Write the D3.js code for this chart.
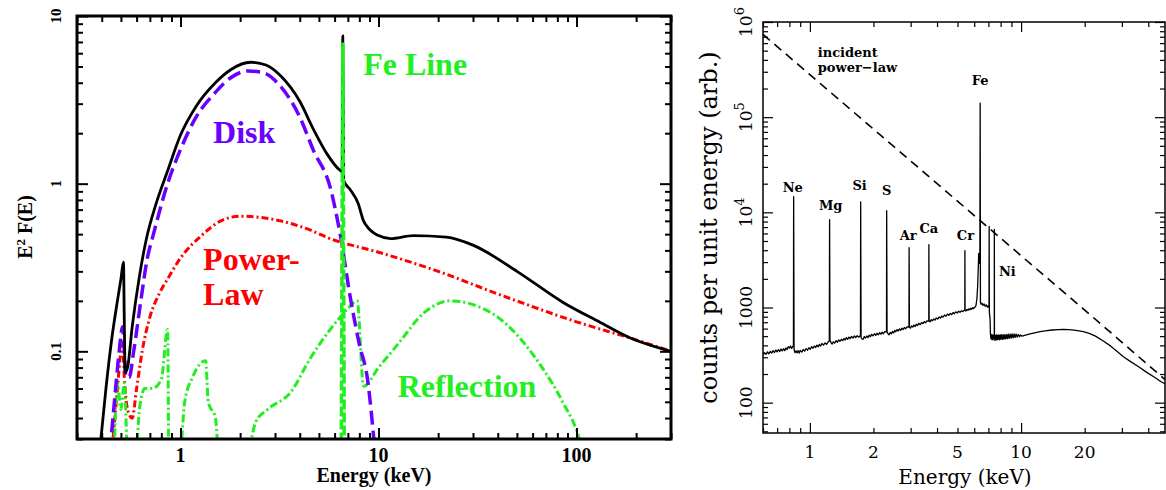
<!DOCTYPE html>
<html><head><meta charset="utf-8">
<script src="https://cdn.jsdelivr.net/npm/d3@7"></script>
<style>body{margin:0;background:#fff}svg{display:block}</style>
</head><body>
<svg id="c" width="1166" height="490"></svg>
<script>
// ================= LEFT PANEL DATA (E in keV, E^2 F(E)) =================
const leftXTickValues = [1, 10, 100];
const leftXTickLabels = ["1", "10", "100"];
const leftYTickValues = [0.1, 1, 10];
const leftYTickLabels = ["0.1", "1", "10"];

const totalCurve = [[0.39,0.025],[0.42,0.06],[0.45,0.12],[0.48,0.2],[0.50,0.27],[0.515,0.34],[0.52,0.15],[0.525,0.075],[0.54,0.08],
  [0.57,0.14],[0.62,0.28],[0.67,0.46],[0.75,0.75],[0.86,1.19],[1.0,1.95],[1.2,2.9],[1.5,4.0],[1.8,4.8],[2.26,5.3],[2.7,5.1],
  [3.2,4.4],[4.0,3.1],[4.7,2.1],[5.5,1.5],[6.4,1.2],[6.55,1.18],[6.6,7.6],[6.66,1.05],[7.2,0.92],[7.9,0.76],[8.4,0.6],[8.8,0.55],
  [10,0.49],[11.5,0.47],[15,0.49],[22,0.48],[30,0.43],[50,0.3],[86,0.195],[130,0.15],[187,0.12],[300,0.1]];
const diskCurve = [[0.44,0.025],[0.47,0.06],[0.49,0.1],[0.51,0.14],[0.52,0.1],[0.53,0.07],[0.55,0.07],[0.58,0.1],[0.63,0.2],
  [0.68,0.36],[0.73,0.5],[0.86,1.0],[1.0,1.6],[1.2,2.5],[1.5,3.5],[1.8,4.3],[2.2,4.7],[2.6,4.6],[3.2,3.8],[4.0,2.5],[4.7,1.57],
  [5.7,0.95],[6.4,0.5],[7.2,0.21],[8.0,0.11],[8.8,0.068],[9.6,0.025]];
const powerLawCurve = [[0.45,0.025],[0.48,0.06],[0.5,0.1],[0.51,0.11],[0.52,0.07],[0.54,0.045],[0.57,0.04],[0.6,0.06],[0.64,0.1],
  [0.7,0.16],[0.78,0.22],[0.86,0.27],[1.0,0.36],[1.3,0.5],[1.6,0.6],[2.0,0.64],[2.5,0.63],[3.2,0.6],[4.5,0.53],[5.7,0.47],
  [10,0.39],[20,0.3],[40,0.22],[100,0.15],[200,0.117],[300,0.1]];
const reflectionCurve = [[0.46,0.02],[0.48,0.065],[0.5,0.045],[0.52,0.065],[0.54,0.025],[0.59,0.02],[0.62,0.045],[0.66,0.06],
  [0.72,0.06],[0.8,0.068],[0.86,0.135],[0.875,0.02],[0.98,0.02],[1.05,0.05],[1.15,0.07],[1.34,0.088],[1.38,0.05],[1.5,0.04],
  [1.58,0.02],[2.08,0.02],[2.4,0.038],[2.75,0.045],[3.6,0.057],[4.5,0.09],[5.7,0.135],[6.4,0.16],[7.0,0.18],[7.8,0.2],[8.4,0.062],
  [10,0.08],[12.5,0.11],[17,0.17],[23,0.2],[30,0.19],[40,0.16],[55,0.11],[68,0.078],[85,0.05],[105,0.028],[112,0.02]];
const feLineCurve = [[6.48,0.02],[6.56,1.2],[6.6,6.8],[6.64,1.2],[6.72,0.02]];

const leftLabels = [
  {text:"Disk", e:1.46, v:1.75, color:"#6a00ff"},
  {text:"Fe Line", e:8.36, v:4.45, color:"#22ee22"},
  {text:"Power-", e:1.30, v:0.306, color:"#ff0000"},
  {text:"Law", e:1.30, v:0.189, color:"#ff0000"},
  {text:"Reflection", e:12.5, v:0.0535, color:"#22ee22"}
];

// ================= RIGHT PANEL DATA (E in keV, counts) =================
const rightXTickValues = [1, 2, 5, 10, 20];
const rightXTickLabels = ["1", "2", "5", "10", "20"];
const rightYTickValues = [100, 1000, 1e4, 1e5, 1e6];
const rightYTickLabels = [["100",""],["1000",""],["10","4"],["10","5"],["10","6"]];

const incidentPowerLaw = [[0.6,7.4e5],[1,2.8e5],[2,7.5e4],[5,1.31e4],[10,3.5e3],[20,9.4e2],[48,1.75e2]];

const reflectedSpectrum = [
  [0.600,318],[0.610,336],[0.620,322],[0.630,342],[0.640,326],[0.650,346],[0.660,333],[0.670,352],[0.680,336],[0.690,358],
  [0.700,342],[0.710,361],[0.720,345],[0.730,366],[0.740,350],[0.750,369],[0.760,352],[0.770,376],[0.780,362],[0.790,388],
  [0.800,374],[0.810,394],[0.820,371],[0.830,390],[0.836,396],[0.838,14600],[0.842,362],[0.850,336],[0.860,350],[0.870,334],
  [0.880,352],[0.890,332],[0.900,354],[0.915,340],[0.930,362],[0.945,348],[0.960,370],[0.975,356],[0.990,378],[1.005,364],
  [1.020,388],[1.035,373],[1.050,394],[1.065,380],[1.080,402],[1.095,386],[1.110,410],[1.125,394],[1.140,418],[1.160,402],
  [1.180,424],[1.200,410],[1.220,434],[1.236,444],[1.240,8400],[1.245,455],[1.260,426],[1.275,414],[1.290,436],[1.310,422],
  [1.330,448],[1.350,432],[1.370,456],[1.390,442],[1.410,464],[1.430,448],[1.450,472],[1.470,456],[1.490,482],[1.510,464],
  [1.530,488],[1.550,470],[1.575,496],[1.600,478],[1.625,502],[1.650,484],[1.675,506],[1.700,488],[1.736,504],[1.740,12900],
  [1.748,484],[1.765,468],[1.785,462],[1.810,494],[1.835,478],[1.860,502],[1.885,484],[1.910,512],[1.935,494],[1.960,522],
  [1.990,504],[2.020,530],[2.050,510],[2.080,536],[2.110,516],[2.140,544],[2.170,524],[2.200,550],[2.230,530],[2.260,556],
  [2.306,556],[2.310,10400],[2.320,556],[2.345,528],[2.370,516],[2.400,546],[2.430,528],[2.460,560],[2.490,540],[2.520,574],
  [2.550,556],[2.585,586],[2.620,566],[2.655,596],[2.690,576],[2.725,606],[2.760,586],[2.800,616],[2.840,596],[2.880,626],
  [2.946,624],[2.950,4250],[2.960,628],[2.990,606],[3.030,640],[3.070,622],[3.110,652],[3.150,632],[3.190,666],[3.230,646],
  [3.280,682],[3.330,660],[3.380,696],[3.430,676],[3.480,710],[3.530,690],[3.580,722],[3.656,718],[3.660,4570],[3.670,724],
  [3.710,706],[3.760,746],[3.810,726],[3.860,758],[3.910,738],[3.970,776],[4.030,756],[4.090,796],[4.150,774],[4.210,814],
  [4.270,792],[4.340,834],[4.410,810],[4.480,852],[4.550,828],[4.620,866],[4.690,842],[4.760,884],[4.830,860],[4.900,900],
  [4.980,876],[5.060,914],[5.140,890],[5.220,926],[5.300,904],[5.380,940],[5.416,934],[5.420,3960],[5.430,938],[5.480,918],
  [5.540,956],[5.600,934],[5.660,968],[5.720,948],[5.780,982],[5.840,960],[5.900,994],[5.960,976],[6.020,1006],[6.080,1020],
  [6.120,1060],[6.180,1250],[6.230,1700],[6.270,2600],[6.300,3700],[6.340,2900],[6.380,3000],[6.400,140000],[6.420,1120],
  [6.470,1080],[6.530,1110],[6.600,1050],[6.680,1090],[6.760,1030],[6.840,1065],[6.920,1010],[7.000,1040],[7.050,1000],
  [7.060,7100],[7.075,900],[7.100,820],[7.130,760],[7.160,520],[7.200,470],[7.240,520],[7.280,460],[7.320,515],[7.360,458],
  [7.400,512],[7.440,470],[7.466,498],[7.470,6600],[7.480,482],[7.520,452],[7.560,508],[7.600,460],[7.650,514],[7.700,456],
  [7.750,512],[7.800,462],[7.860,516],[7.920,458],[7.980,514],[8.040,464],[8.100,518],[8.170,462],[8.240,516],[8.310,466],
  [8.380,520],[8.460,468],[8.540,520],[8.620,470],[8.700,524],[8.790,474],[8.880,526],[8.970,478],[9.060,528],[9.160,480],
  [9.260,528],[9.360,484],[9.470,526],[9.580,488],[9.700,520],[9.830,494],[9.960,514],[10.1,500],[10.5,512],[11.0,528],
  [11.6,542],[12.3,558],[13.0,568],[14.0,580],[15.0,585],[15.8,588],[16.8,586],[17.8,578],[18.8,568],[19.7,558],[21,534],
  [22.5,500],[24.5,445],[26.5,395],[28.5,345],[30.4,306],[33,270],[36,238],[39.5,207],[43,184],[46,166],[48,158]];

const lineLabels = [
  {text:"Ne", e:0.83, c:16400}, {text:"Mg", e:1.255, c:10600}, {text:"Si", e:1.72, c:17300},
  {text:"S", e:2.31, c:15300}, {text:"Ar", e:2.92, c:5150}, {text:"Ca", e:3.66, c:6100},
  {text:"Cr", e:5.45, c:5150}, {text:"Fe", e:6.4, c:218000}
];
const niLabel = {text:"Ni", e:7.85, c:2160};
const incidentLabel = [{text:"incident", e:1.09, c:4.3e5}, {text:"power\u2212law", e:1.09, c:2.98e5}];

// ================= DRAWING =================
const svg = d3.select("#c");
svg.append("rect").attr("width",1166).attr("height",490).attr("fill","#fff");
const defs = svg.append("defs");

function isMajor(v){ const l = Math.log10(v); return Math.abs(l - Math.round(l)) < 1e-9; }

function frameAxes(g, x, y, box, opt){
  const xt = x.ticks(), yt = y.ticks();
  const xMin = xt.filter(v=>!isMajor(v)), xMaj = xt.filter(isMajor);
  const yMin = yt.filter(v=>!isMajor(v)), yMaj = yt.filter(isMajor);
  const add = (axis, tr) => {
    const a = g.append("g").attr("transform", tr).call(axis);
    a.select(".domain").remove();
    a.selectAll("line").attr("stroke","#000").attr("stroke-width",opt.tw);
    a.selectAll("text").remove();
  };
  [[xMin,opt.minor],[xMaj,opt.major]].forEach(([vals,len])=>{
    add(d3.axisBottom(x).tickValues(vals).tickSize(-len).tickFormat(""), `translate(0,${box.y1})`);
    add(d3.axisTop(x).tickValues(vals).tickSize(-len).tickFormat(""), `translate(0,${box.y0})`);
  });
  [[yMin,opt.minor],[yMaj,opt.major]].forEach(([vals,len])=>{
    add(d3.axisLeft(y).tickValues(vals).tickSize(-len).tickFormat(""), `translate(${box.x0},0)`);
    add(d3.axisRight(y).tickValues(vals).tickSize(-len).tickFormat(""), `translate(${box.x1},0)`);
  });
  g.append("rect").attr("x",box.x0).attr("y",box.y0).attr("width",box.x1-box.x0).attr("height",box.y1-box.y0)
    .attr("fill","none").attr("stroke","#000").attr("stroke-width",opt.fw);
}

// ---------- LEFT ----------
const L = {x0:77, x1:671, y0:16, y1:439};
const lx = d3.scaleLog().domain([0.3, 300]).range([L.x0, L.x1]);
const ly = d3.scaleLog().domain([0.03, 10]).range([L.y1, L.y0]);
defs.append("clipPath").attr("id","clipL").append("rect")
  .attr("x",L.x0).attr("y",L.y0).attr("width",L.x1-L.x0).attr("height",L.y1-L.y0);
const gL = svg.append("g");
const lineL = d3.line().x(d=>lx(d[0])).y(d=>ly(d[1])).curve(d3.curveMonotoneX);
const cL = gL.append("g").attr("clip-path","url(#clipL)");
cL.append("path").datum(powerLawCurve).attr("d",lineL).attr("fill","none").attr("stroke","#ff0000")
  .attr("stroke-width",3).attr("stroke-dasharray","7,3,2,3");
cL.append("path").datum(reflectionCurve).attr("d",lineL).attr("fill","none").attr("stroke","#22ee22")
  .attr("stroke-width",3).attr("stroke-dasharray","8,3,2,3");
cL.append("path").datum(diskCurve).attr("d",lineL).attr("fill","none").attr("stroke","#6a00ff")
  .attr("stroke-width",3.5).attr("stroke-dasharray","14,6");
cL.append("path").datum(totalCurve).attr("d",lineL).attr("fill","none").attr("stroke","#000")
  .attr("stroke-width",2.8).attr("stroke-linejoin","round");
cL.append("path").datum(feLineCurve).attr("d",lineL).attr("fill","none").attr("stroke","#22ee22")
  .attr("stroke-width",3.5).attr("stroke-dasharray","10,3");

frameAxes(gL, lx, ly, L, {minor:6, major:11, tw:2, fw:3});

const fontL = "'Liberation Serif','Times New Roman',serif";
gL.selectAll(".xl").data(leftXTickValues).enter().append("text")
  .attr("x",d=>lx(d)).attr("y",L.y1+23).attr("text-anchor","middle")
  .attr("font-family",fontL).attr("font-weight","bold").attr("font-size",20)
  .text((d,i)=>leftXTickLabels[i]);
gL.selectAll(".yl").data(leftYTickValues).enter().append("text")
  .attr("transform",d=>`translate(61,${ly(d)}) rotate(-90)`).attr("text-anchor","middle")
  .attr("font-family",fontL).attr("font-weight","bold").attr("font-size",15)
  .text((d,i)=>leftYTickLabels[i]);
gL.append("text").attr("x",(L.x0+L.x1)/2).attr("y",482).attr("text-anchor","middle")
  .attr("font-family",fontL).attr("font-weight","bold").attr("font-size",20).text("Energy (keV)");
const yt = gL.append("text").attr("transform","translate(32,227) rotate(-90)").attr("text-anchor","middle")
  .attr("font-family",fontL).attr("font-weight","bold").attr("font-size",20);
yt.append("tspan").text("E");
yt.append("tspan").attr("dy",-7).attr("font-size",13).text("2");
yt.append("tspan").attr("dy",7).text(" F(E)");

gL.selectAll(".lab").data(leftLabels).enter().append("text")
  .attr("x",d=>lx(d.e)).attr("y",d=>ly(d.v)).attr("fill",d=>d.color)
  .attr("font-family",fontL).attr("font-weight","bold").attr("font-size",32).text(d=>d.text);

// ---------- RIGHT ----------
const R = {x0:763, x1:1165, y0:22, y1:433};
const rx = d3.scaleLog().domain([0.6, 48]).range([R.x0, R.x1]);
const ry = d3.scaleLog().domain([48, 1e6]).range([R.y1, R.y0]);
defs.append("clipPath").attr("id","clipR").append("rect")
  .attr("x",R.x0).attr("y",R.y0).attr("width",R.x1-R.x0).attr("height",R.y1-R.y0);
const gR = svg.append("g");
const lineR = d3.line().x(d=>rx(d[0])).y(d=>ry(d[1]));
const cR = gR.append("g").attr("clip-path","url(#clipR)");
cR.append("path").datum(incidentPowerLaw).attr("d",lineR).attr("fill","none").attr("stroke","#000")
  .attr("stroke-width",1.6).attr("stroke-dasharray","9,6");
cR.append("path").datum(reflectedSpectrum).attr("d",lineR).attr("fill","none").attr("stroke","#000")
  .attr("stroke-width",1.3).attr("stroke-linejoin","round");

frameAxes(gR, rx, ry, R, {minor:5, major:10, tw:1.2, fw:1.5});

const fontR = "'DejaVu Serif',serif";
gR.selectAll(".xl").data(rightXTickValues).enter().append("text")
  .attr("x",d=>rx(d)).attr("y",R.y1+25).attr("text-anchor","middle")
  .attr("font-family",fontR).attr("font-size",17).text((d,i)=>rightXTickLabels[i]);
rightYTickValues.forEach((v,i)=>{
  const t = gR.append("text").attr("transform",`translate(752,${ry(v)}) rotate(-90)`).attr("text-anchor","middle")
    .attr("font-family",fontR).attr("font-size",17);
  t.append("tspan").text(rightYTickLabels[i][0]);
  if (rightYTickLabels[i][1]) t.append("tspan").attr("dy",-8).attr("font-size",13).text(rightYTickLabels[i][1]);
});
gR.append("text").attr("x",965).attr("y",484).attr("text-anchor","middle")
  .attr("font-family",fontR).attr("font-size",20).text("Energy (keV)");
gR.append("text").attr("transform",`translate(717,${(R.y0+R.y1)/2}) rotate(-90)`).attr("text-anchor","middle")
  .attr("font-family",fontR).attr("font-size",24).text("counts per unit energy (arb.)");

gR.selectAll(".ll").data(lineLabels).enter().append("text")
  .attr("x",d=>rx(d.e)).attr("y",d=>ry(d.c)).attr("text-anchor","middle")
  .attr("font-family",fontR).attr("font-weight","bold").attr("font-size",13).text(d=>d.text);
gR.append("text").attr("x",rx(niLabel.e)).attr("y",ry(niLabel.c))
  .attr("font-family",fontR).attr("font-weight","bold").attr("font-size",13).text(niLabel.text);
gR.selectAll(".il").data(incidentLabel).enter().append("text")
  .attr("x",d=>rx(d.e)).attr("y",d=>ry(d.c))
  .attr("font-family",fontR).attr("font-weight","bold").attr("font-size",13).text(d=>d.text);
</script>
</body></html>
